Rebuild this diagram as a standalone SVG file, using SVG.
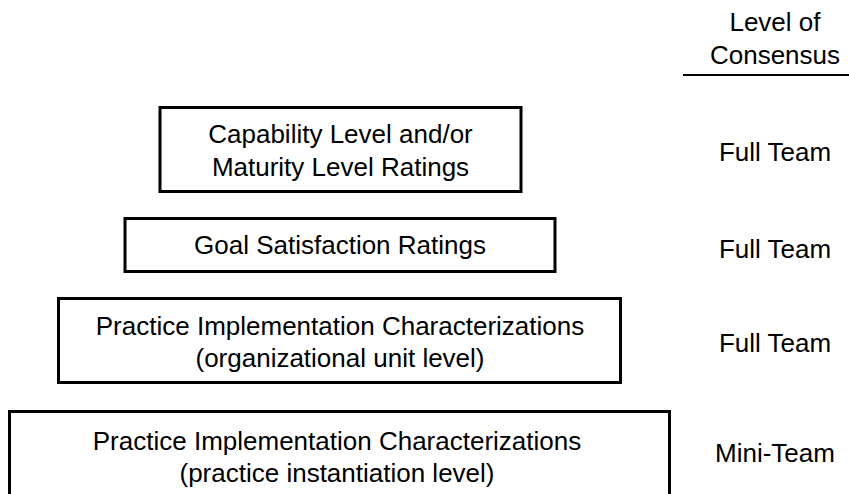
<svg xmlns="http://www.w3.org/2000/svg" width="849" height="494" viewBox="0 0 849 494">
  <style>
    text { font-family: "Liberation Sans", Arial, Helvetica, sans-serif; font-size: 26px; fill: #000; text-anchor: middle; }
    .box { fill: #fff; stroke: #000; stroke-width: 3; }
  </style>
  <rect width="849" height="494" fill="#fff"/>
  <g id="header">
    <text x="775" y="31">Level of</text>
    <text x="775" y="64">Consensus</text>
    <line x1="683" y1="75" x2="849" y2="75" stroke="#000" stroke-width="2"/>
  </g>
  <g id="node-capability">
    <rect class="box" x="160" y="107.5" width="361" height="84"/>
    <text x="340.5" y="143">Capability Level and/or</text>
    <text x="340.5" y="176">Maturity Level Ratings</text>
  </g>
  <g id="node-goal">
    <rect class="box" x="125" y="218.5" width="430" height="53"/>
    <text x="340" y="254">Goal Satisfaction Ratings</text>
  </g>
  <g id="node-pic-ou">
    <rect class="box" x="58.5" y="298.5" width="562" height="84"/>
    <text x="340" y="335">Practice Implementation Characterizations</text>
    <text x="340" y="367">(organizational unit level)</text>
  </g>
  <g id="node-pic-pi">
    <rect class="box" x="9.5" y="411.5" width="660" height="100"/>
    <text x="337" y="450">Practice Implementation Characterizations</text>
    <text x="337" y="482">(practice instantiation level)</text>
  </g>
  <g id="consensus">
    <text x="775" y="161">Full Team</text>
    <text x="775" y="258">Full Team</text>
    <text x="775" y="352">Full Team</text>
    <text x="775" y="462">Mini-Team</text>
  </g>
  <g id="connectors"></g>
</svg>
